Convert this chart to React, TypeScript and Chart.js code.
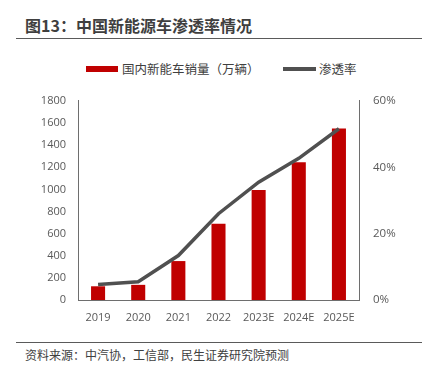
import React, { useEffect, useRef } from "react";
import { Chart, registerables } from "chart.js";

Chart.register(...registerables);

const categories = ["2019", "2020", "2021", "2022", "2023E", "2024E", "2025E"];
const salesValues = [124, 137, 352, 689, 994, 1245, 1550];
const penetrationValues = [0.047, 0.055, 0.134, 0.26, 0.355, 0.427, 0.516];
const leftTicks = [0, 1800, 200];
const rightTicks = [0, 0.6, 0.2];

const TITLE = "图13：中国新能源车渗透率情况";
const SOURCE = "资料来源：中汽协，工信部，民生证券研究院预测";
const BAR_LABEL = "国内新能车销量（万辆）";
const LINE_LABEL = "渗透率";

const RED = "#C00000";
const GRAY_LINE = "#505050";
const AXIS = "#6e6e6e";
const TICK = "#595959";
const FONT = "'Noto Sans CJK SC', 'Noto Sans', sans-serif";
const NUM_FONT = "'Open Sans', 'Noto Sans', sans-serif";

export default function App() {
  const ref = useRef<HTMLCanvasElement | null>(null);

  useEffect(() => {
    if (!ref.current) return;
    const chart = new Chart(ref.current, {
      type: "bar",
      data: {
        labels: categories,
        datasets: [
          {
            type: "line",
            label: LINE_LABEL,
            data: penetrationValues,
            yAxisID: "y1",
            borderColor: GRAY_LINE,
            backgroundColor: GRAY_LINE,
            borderWidth: 3.5,
            pointRadius: 0,
            tension: 0,
            order: 0,
          } as any,
          {
            type: "bar",
            label: BAR_LABEL,
            data: salesValues,
            yAxisID: "y",
            backgroundColor: RED,
            categoryPercentage: 1,
            barPercentage: 0.35,
            order: 1,
          },
        ],
      },
      options: {
        animation: false,
        responsive: false,
        maintainAspectRatio: false,
        layout: { padding: { top: 19, left: 0, right: 0, bottom: 0 } },
        plugins: { legend: { display: false }, tooltip: { enabled: false } },
        scales: {
          x: {
            grid: { display: false, drawTicks: false },
            border: { display: true, color: AXIS, width: 1 },
            ticks: { color: TICK, font: { family: NUM_FONT, size: 11 }, padding: 11, maxRotation: 0 },
            afterFit: (s: any) => { s.height = 30; },
          },
          y: {
            position: "left",
            min: leftTicks[0],
            max: leftTicks[1],
            grid: { display: false, drawTicks: false },
            border: { display: true, color: AXIS, width: 1 },
            ticks: {
              stepSize: leftTicks[2],
              color: TICK,
              font: { family: NUM_FONT, size: 11 },
              padding: 12,
              callback: (v: any) => String(v),
            },
            afterFit: (s: any) => { s.width = 78; },
          },
          y1: {
            position: "right",
            min: rightTicks[0],
            max: rightTicks[1],
            grid: { display: false, drawTicks: false },
            border: { display: true, color: AXIS, width: 1 },
            ticks: {
              stepSize: rightTicks[2],
              color: TICK,
              font: { family: NUM_FONT, size: 11.5 },
              padding: 14,
              callback: (v: any) => Math.round(Number(v) * 100) + "%",
            },
            afterFit: (s: any) => { s.width = 63; },
          },
        },
      },
    });
    return () => chart.destroy();
  }, []);

  const abs = (o: React.CSSProperties): React.CSSProperties => ({ position: "absolute", ...o });

  return (
    <div style={{ position: "fixed", left: 0, top: 0, width: 422, height: 368, background: "#fff", fontFamily: FONT, overflow: "hidden" }}>
      <div style={abs({ left: 25, top: 13, fontSize: 16, fontWeight: "bold", color: "#3f3f3f", lineHeight: "24px", whiteSpace: "nowrap" })}>{TITLE}</div>
      <div style={abs({ left: 16, top: 38, width: 406, height: 1, background: "#5a5a5a" })} />
      <div style={abs({ left: 86, top: 66, width: 32, height: 6, background: RED })} />
      <div style={abs({ left: 122, top: 60, fontSize: 12.5, color: "#404040", lineHeight: "18px", whiteSpace: "nowrap" })}>{BAR_LABEL}</div>
      <div style={abs({ left: 283, top: 67, width: 33, height: 4, background: GRAY_LINE })} />
      <div style={abs({ left: 319, top: 60, fontSize: 12.5, color: "#404040", lineHeight: "18px", whiteSpace: "nowrap" })}>{LINE_LABEL}</div>
      <canvas ref={ref} width={422} height={250} style={abs({ left: 0, top: 80, width: 422, height: 250 })} />
      <div style={abs({ left: 16, top: 342, width: 406, height: 1, background: "#5a5a5a" })} />
      <div style={abs({ left: 25, top: 346, fontSize: 12, color: "#404040", lineHeight: "18px", whiteSpace: "nowrap" })}>{SOURCE}</div>
    </div>
  );
}
